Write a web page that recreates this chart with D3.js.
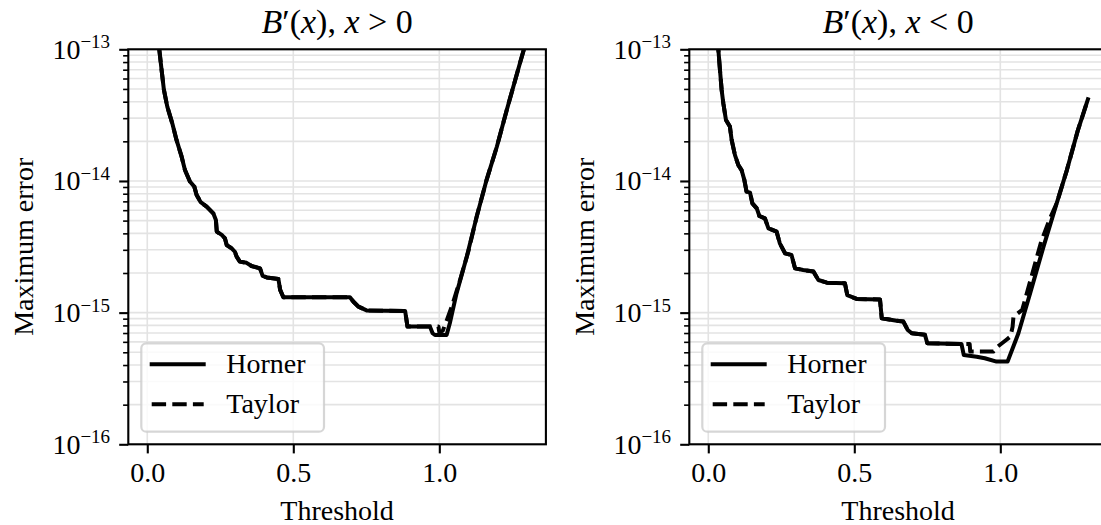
<!DOCTYPE html>
<html><head><meta charset="utf-8">
<script src="https://cdn.jsdelivr.net/npm/d3@7"></script>
<style>body{margin:0;background:#fff} svg{display:block}</style>
</head><body>
<svg id="c" width="1101" height="525"></svg>
<script>
// ---------- data ----------
const xTicks = [0, 0.5, 1.0];
const xTickLabels = ["0.0", "0.5", "1.0"];
const yMajor = [1e-16, 1e-15, 1e-14, 1e-13];
const yTickExp = ["\u221216", "\u221215", "\u221214", "\u221213"];
const seriesNames = ["Horner", "Taylor"];
const xDomain = [-0.065, 1.365];
const yDomain = [1e-16, 1e-13];

const leftHorner = [[0.020,3.0e-13],[0.035,1.3e-13],[0.041,1.00e-13],[0.049,6.97e-14],[0.057,4.91e-14],[0.0685,3.67e-14],[0.0856,2.74e-14],[0.100,2.05e-14],[0.1176,1.53e-14],[0.129,1.21e-14],[0.146,9.9e-15],[0.161,9.06e-15],[0.169,7.83e-15],[0.183,6.9e-15],[0.2033,6.38e-15],[0.226,5.68e-15],[0.235,5.05e-15],[0.238,4.12e-15],[0.255,3.89e-15],[0.266,3.66e-15],[0.272,3.26e-15],[0.289,3.08e-15],[0.300,2.90e-15],[0.306,2.66e-15],[0.317,2.44e-15],[0.340,2.39e-15],[0.357,2.26e-15],[0.386,2.17e-15],[0.395,1.90e-15],[0.409,1.85e-15],[0.449,1.80e-15],[0.455,1.49e-15],[0.466,1.31e-15],[0.694,1.31e-15],[0.706,1.21e-15],[0.723,1.11e-15],[0.751,1.04e-15],[0.883,1.03e-15],[0.891,7.83e-16],[0.968,7.83e-16],[0.977,6.97e-16],[0.985,6.76e-16],[1.025,6.76e-16],[1.036,8.30e-16],[1.059,1.40e-15],[1.094,2.66e-15],[1.128,5.36e-15],[1.162,1.02e-14],[1.197,1.82e-14],[1.231,3.46e-14],[1.276,7.83e-14],[1.300,1.2e-13]];

const leftTaylor = [[0.020,3.0e-13],[0.035,1.3e-13],[0.041,1.00e-13],[0.049,6.97e-14],[0.057,4.91e-14],[0.0685,3.67e-14],[0.0856,2.74e-14],[0.100,2.05e-14],[0.1176,1.53e-14],[0.129,1.21e-14],[0.146,9.9e-15],[0.161,9.06e-15],[0.169,7.83e-15],[0.183,6.9e-15],[0.2033,6.38e-15],[0.226,5.68e-15],[0.235,5.05e-15],[0.238,4.12e-15],[0.255,3.89e-15],[0.266,3.66e-15],[0.272,3.26e-15],[0.289,3.08e-15],[0.300,2.90e-15],[0.306,2.66e-15],[0.317,2.44e-15],[0.340,2.39e-15],[0.357,2.26e-15],[0.386,2.17e-15],[0.395,1.90e-15],[0.409,1.85e-15],[0.449,1.80e-15],[0.455,1.49e-15],[0.466,1.31e-15],[0.694,1.31e-15],[0.706,1.21e-15],[0.723,1.11e-15],[0.751,1.04e-15],[0.883,1.03e-15],[0.891,7.83e-16],[0.968,7.83e-16],[0.997,7.83e-16],[1.000,7.1e-16],[1.012,7.3e-16],[1.026,8.8e-16],[1.045,1.15e-15],[1.072,1.80e-15],[1.100,2.95e-15],[1.128,5.36e-15],[1.162,1.02e-14],[1.197,1.82e-14],[1.231,3.46e-14],[1.276,7.83e-14],[1.300,1.2e-13]];

const rightHorner = [[0.020,2.5e-13],[0.0344,1.0e-13],[0.040,6.97e-14],[0.0458,4.91e-14],[0.0515,3.89e-14],[0.0606,2.90e-14],[0.074,2.59e-14],[0.080,2.05e-14],[0.0914,1.57e-14],[0.103,1.32e-14],[0.114,1.21e-14],[0.1234,1.02e-14],[0.131,8.30e-15],[0.143,8.15e-15],[0.151,6.76e-15],[0.166,6.19e-15],[0.175,5.42e-15],[0.194,5.2e-15],[0.206,4.37e-15],[0.234,4.12e-15],[0.245,3.36e-15],[0.263,2.82e-15],[0.285,2.74e-15],[0.297,2.17e-15],[0.325,2.11e-15],[0.360,2.05e-15],[0.377,1.77e-15],[0.406,1.69e-15],[0.468,1.67e-15],[0.476,1.36e-15],[0.508,1.27e-15],[0.588,1.26e-15],[0.594,9.06e-16],[0.645,8.69e-16],[0.668,8.55e-16],[0.683,7.38e-16],[0.697,6.97e-16],[0.742,6.78e-16],[0.750,5.85e-16],[0.867,5.78e-16],[0.875,4.76e-16],[0.919,4.63e-16],[0.947,4.50e-16],[0.987,4.25e-16],[1.025,4.25e-16],[1.062,6.97e-16],[1.102,1.40e-15],[1.148,3.17e-15],[1.193,6.76e-15],[1.228,1.21e-14],[1.265,2.40e-14],[1.300,4.17e-14]];

const rightTaylor = [[0.020,2.5e-13],[0.0344,1.0e-13],[0.040,6.97e-14],[0.0458,4.91e-14],[0.0515,3.89e-14],[0.0606,2.90e-14],[0.074,2.59e-14],[0.080,2.05e-14],[0.0914,1.57e-14],[0.103,1.32e-14],[0.114,1.21e-14],[0.1234,1.02e-14],[0.131,8.30e-15],[0.143,8.15e-15],[0.151,6.76e-15],[0.166,6.19e-15],[0.175,5.42e-15],[0.194,5.2e-15],[0.206,4.37e-15],[0.234,4.12e-15],[0.245,3.36e-15],[0.263,2.82e-15],[0.285,2.74e-15],[0.297,2.17e-15],[0.325,2.11e-15],[0.360,2.05e-15],[0.377,1.77e-15],[0.406,1.69e-15],[0.468,1.67e-15],[0.476,1.36e-15],[0.508,1.27e-15],[0.588,1.26e-15],[0.594,9.06e-16],[0.645,8.69e-16],[0.668,8.55e-16],[0.683,7.38e-16],[0.697,6.97e-16],[0.742,6.78e-16],[0.750,5.85e-16],[0.867,5.78e-16],[0.895,5.78e-16],[0.897,5.06e-16],[0.976,5.06e-16],[0.990,5.5e-16],[1.020,6.2e-16],[1.035,6.6e-16],[1.042,7.8e-16],[1.045,9.3e-16],[1.075,1.05e-15],[1.100,1.66e-15],[1.140,3.47e-15],[1.168,5.06e-15],[1.193,6.76e-15],[1.228,1.21e-14],[1.265,2.40e-14],[1.300,4.17e-14]];

const titles = [
  [["B","italic"],["\u2032(",""],["x","italic"],["), ",""],["x","italic"],[" > 0",""]],
  [["B","italic"],["\u2032(",""],["x","italic"],["), ",""],["x","italic"],[" < 0",""]]
];

// ---------- layout ----------
const FONT = "'Liberation Serif','Times New Roman',serif";
const FS = 28;
const TOP = 49.3, PH = 395, PW = 417.6;
const TICK = 9.1, MTICK = 5.2, PAD = 9.1;
const LW = 4.0, SPINE = 2.1;
const panels = [
  {left: 128.3, horner: leftHorner, taylor: leftTaylor, title: titles[0]},
  {left: 689.3, horner: rightHorner, taylor: rightTaylor, title: titles[1]}
];

const svg = d3.select("#c");
svg.append("rect").attr("width",1101).attr("height",525).attr("fill","#fff");

panels.forEach((p, i) => {
  const x = d3.scaleLinear().domain(xDomain).range([p.left, p.left + PW]);
  const y = d3.scaleLog().domain(yDomain).range([TOP + PH, TOP]);
  const g = svg.append("g");

  g.append("clipPath").attr("id", "clip" + i)
    .append("rect").attr("x", p.left).attr("y", TOP).attr("width", PW).attr("height", PH);

  // grid
  const gy = y.ticks();
  g.append("g").selectAll("line").data(gy).join("line")
    .attr("x1", p.left).attr("x2", p.left + PW)
    .attr("y1", d => y(d)).attr("y2", d => y(d))
    .attr("stroke", "#e3e3e3").attr("stroke-width", 1.6);
  g.append("g").selectAll("line").data(xTicks).join("line")
    .attr("x1", d => x(d)).attr("x2", d => x(d))
    .attr("y1", TOP).attr("y2", TOP + PH)
    .attr("stroke", "#e3e3e3").attr("stroke-width", 1.6);

  // lines
  const line = d3.line().x(d => x(d[0])).y(d => y(d[1]));
  const lg = g.append("g").attr("clip-path", `url(#clip${i})`);
  lg.append("path").attr("d", line(p.horner)).attr("fill", "none")
    .attr("stroke", "#000").attr("stroke-width", LW)
    .attr("stroke-linejoin", "round").attr("stroke-linecap", "square");
  lg.append("path").attr("d", line(p.taylor)).attr("fill", "none")
    .attr("stroke", "#000").attr("stroke-width", LW)
    .attr("stroke-linejoin", "round").attr("stroke-dasharray", "14.4,6.2");

  // axes ticks
  const ya = g.append("g").attr("transform", `translate(${p.left},0)`)
    .call(d3.axisLeft(y).tickValues(yMajor).tickSize(TICK).tickSizeOuter(0).tickFormat(""));
  const ym = g.append("g").attr("transform", `translate(${p.left},0)`)
    .call(d3.axisLeft(y).tickValues(gy.filter(v => !yMajor.some(m => Math.abs(m - v) / m < 1e-6))).tickSize(MTICK).tickSizeOuter(0).tickFormat(""));
  const xa = g.append("g").attr("transform", `translate(0,${TOP + PH})`)
    .call(d3.axisBottom(x).tickValues(xTicks).tickSize(TICK).tickSizeOuter(0).tickFormat((d, k) => xTickLabels[k]));
  [ya, ym, xa].forEach(a => a.select(".domain").remove());
  ya.selectAll(".tick line").attr("stroke-width", SPINE);
  ym.selectAll(".tick line").attr("stroke-width", 1.6);
  xa.selectAll(".tick line").attr("stroke-width", SPINE);
  xa.selectAll(".tick text").attr("y", 37.4).attr("dy", null)
    .attr("font-family", FONT).attr("font-size", FS).attr("fill", "#000");

  // y tick labels with superscripts
  yMajor.forEach((v, k) => {
    const t = g.append("text").attr("x", p.left - TICK - PAD).attr("y", y(v) + 9.5)
      .attr("text-anchor", "end").attr("font-family", FONT).attr("font-size", FS);
    t.append("tspan").text("10");
    t.append("tspan").attr("dy", -10.5).attr("font-size", 19).text(yTickExp[k]);
  });

  // spines
  g.append("rect").attr("x", p.left).attr("y", TOP).attr("width", PW).attr("height", PH)
    .attr("fill", "none").attr("stroke", "#000").attr("stroke-width", SPINE);

  // title
  const cx = p.left + PW / 2;
  const tt = g.append("text").attr("x", cx).attr("y", 33).attr("text-anchor", "middle")
    .attr("font-family", FONT).attr("font-size", 34).attr("xml:space", "preserve");
  p.title.forEach(s => tt.append("tspan").attr("font-style", s[1] || null).text(s[0]));

  // axis labels
  g.append("text").attr("x", cx).attr("y", 520).attr("text-anchor", "middle")
    .attr("font-family", FONT).attr("font-size", FS).text("Threshold");
  g.append("text").attr("transform", `translate(${p.left - 95},${TOP + PH / 2}) rotate(-90)`)
    .attr("text-anchor", "middle").attr("font-family", FONT).attr("font-size", FS).text("Maximum error");

  // legend
  const L = p.left + 13, T = 343.3;
  g.append("rect").attr("x", L).attr("y", T).attr("width", 182.7).attr("height", 88.4)
    .attr("rx", 5).attr("fill", "rgba(255,255,255,0.8)")
    .attr("stroke", "#cccccc").attr("stroke-opacity", 0.8).attr("stroke-width", 2.2);
  seriesNames.forEach((nm, k) => {
    const yy = 364.3 + k * 40;
    g.append("line").attr("x1", L + 10.4).attr("x2", L + 62.4).attr("y1", yy).attr("y2", yy)
      .attr("stroke", "#000").attr("stroke-width", LW)
      .attr("stroke-linecap", k === 0 ? "square" : "butt")
      .attr("stroke-dasharray", k === 0 ? null : "14.4,6.2");
    g.append("text").attr("x", L + 85).attr("y", yy + 9).attr("font-family", FONT)
      .attr("font-size", FS).text(nm);
  });
});
</script>
</body></html>
